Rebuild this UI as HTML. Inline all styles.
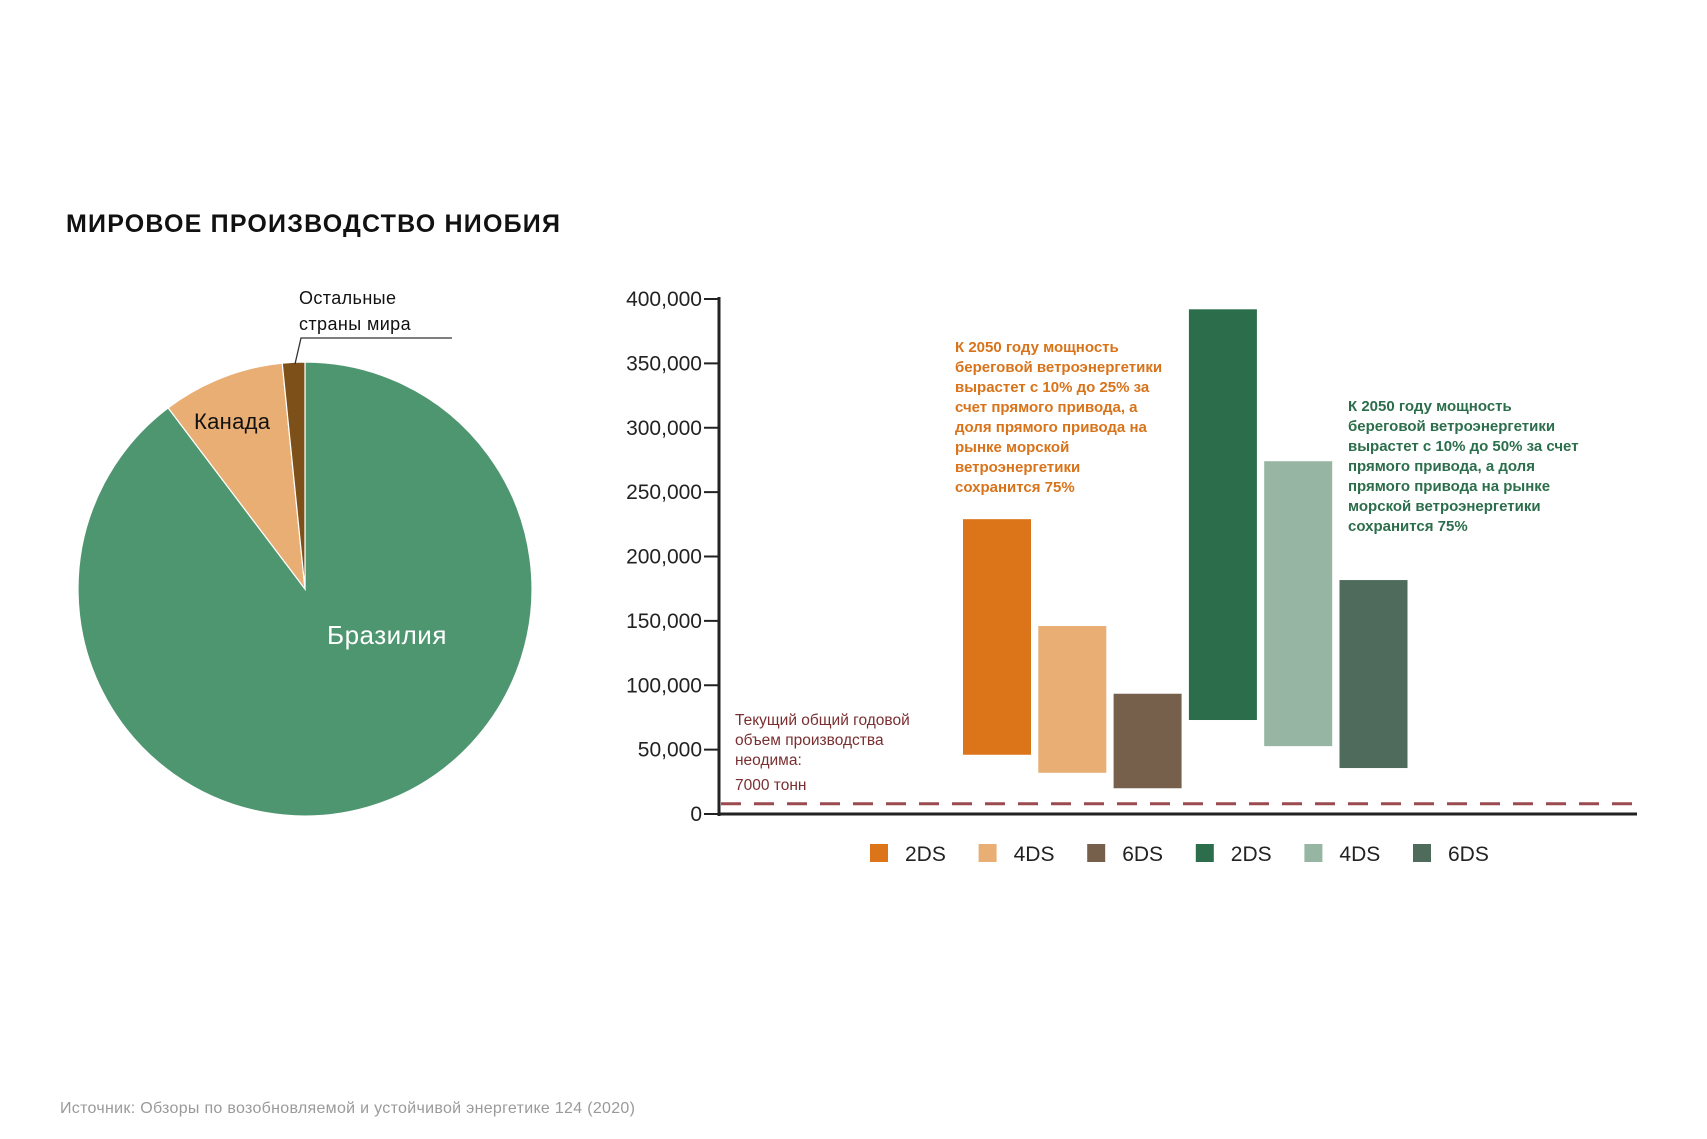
<!DOCTYPE html>
<html><head><meta charset="utf-8">
<style>
html,body{margin:0;padding:0;background:#fff;}
body{width:1707px;height:1139px;overflow:hidden;font-family:"Liberation Sans","DejaVu Sans",sans-serif;}
svg{position:absolute;left:0;top:0;}
</style></head>
<body>
<svg id="main" width="1707" height="1139" viewBox="0 0 1707 1139">
<text x="66" y="232" font-size="25" font-weight="bold" fill="#111" letter-spacing="1.2">МИРОВОЕ ПРОИЗВОДСТВО НИОБИЯ</text>
<g id="pie"></g>
<polyline points="295,364 301,338 452,338" fill="none" stroke="#333" stroke-width="1.3"/>
<text x="299" y="304" font-size="18" fill="#111" letter-spacing="0.4">Остальные</text>
<text x="299" y="330" font-size="18" fill="#111" letter-spacing="0.4">страны мира</text>
<text x="194" y="429" font-size="22" fill="#111" letter-spacing="0.3">Канада</text>
<text x="327" y="644" font-size="26" fill="#fff" letter-spacing="0.5">Бразилия</text>
<g id="bars"></g>
<g font-size="15" font-weight="bold" fill="#d9731a">
<text x="955" y="352">К 2050 году мощность</text>
<text x="955" y="372">береговой ветроэнергетики</text>
<text x="955" y="392">вырастет с 10% до 25% за</text>
<text x="955" y="412">счет прямого привода, а</text>
<text x="955" y="432">доля прямого привода на</text>
<text x="955" y="452">рынке морской</text>
<text x="955" y="472">ветроэнергетики</text>
<text x="955" y="492">сохранится 75%</text>
</g>
<g font-size="15" font-weight="bold" fill="#2c6e4b">
<text x="1348" y="411">К 2050 году мощность</text>
<text x="1348" y="431">береговой ветроэнергетики</text>
<text x="1348" y="451">вырастет с 10% до 50% за счет</text>
<text x="1348" y="471">прямого привода, а доля</text>
<text x="1348" y="491">прямого привода на рынке</text>
<text x="1348" y="511">морской ветроэнергетики</text>
<text x="1348" y="531">сохранится 75%</text>
</g>
<g font-size="15.5" fill="#7a2e30">
<text x="735" y="725">Текущий общий годовой</text>
<text x="735" y="745">объем производства</text>
<text x="735" y="765">неодима:</text>
<text x="735" y="790">7000 тонн</text>
</g>
<text x="60" y="1113" font-size="16" fill="#9a9a9a" letter-spacing="0.3">Источник: Обзоры по возобновляемой и устойчивой энергетике 124 (2020)</text>
</svg>
<script>
const pieLabels = ["Бразилия","Канада","Остальные страны мира"];
const pieValues = [89.7, 8.7, 1.6];
const pieColors = ["#4e9670","#e8ae74","#7d5019"];

const barCategories = ["2DS","4DS","6DS","2DS","4DS","6DS"];
const barLow = [46000, 32000, 20000, 73000, 52700, 35700];
const barHigh = [229000, 146000, 93400, 392000, 274000, 181700];
const barColors = ["#dc7519","#e8ae74","#77604b","#2c6e4b","#96b6a3","#4f6b5c"];
const yTicks = [0,50000,100000,150000,200000,250000,300000,350000,400000];
const yTickLabels = ["0","50,000","100,000","150,000","200,000","250,000","300,000","350,000","400,000"];
const currentLevel = [8000];

const NS = "http://www.w3.org/2000/svg";
function mk(tag, attrs, parent){const e=document.createElementNS(NS,tag);for(const k in attrs)e.setAttribute(k,attrs[k]);parent.appendChild(e);return e;}

// pie
const pie = document.getElementById('pie');
const cx=305, cy=589, r=227;
const total = pieValues.reduce((a,b)=>a+b,0);
let a0 = 0;
pieValues.forEach((v,i)=>{
  const a1 = a0 + v/total*2*Math.PI;
  const x0=cx+r*Math.sin(a0), y0=cy-r*Math.cos(a0);
  const x1=cx+r*Math.sin(a1), y1=cy-r*Math.cos(a1);
  const large = (a1-a0)>Math.PI?1:0;
  const p = mk('path',{d:`M${cx},${cy} L${x0},${y0} A${r},${r} 0 ${large} 1 ${x1},${y1} Z`,fill:pieColors[i],stroke:"#fff","stroke-width":1.2},pie);
  
  
  a0 = a1;
});

// bar chart
const g = document.getElementById('bars');
const axX=719, y0px=814, y400=299, xEnd=1637;
const yScale = v => y0px - v/400000*(y0px-y400);
const xStart=963, step=75.3, bw=68;
const xScale = i => xStart + i*step;

yTicks.forEach((t,i)=>{
  const y=yScale(t);
  const tk = mk('line',{x1:axX-15,x2:axX,y1:y,y2:y,stroke:"#222","stroke-width":2},g);
  
  
  const tx = mk('text',{x:axX-17,y:y+7,"text-anchor":"end","font-size":21,fill:"#222"},g);
  tx.textContent = yTickLabels[i];
  
  
});
const ya = mk('line',{x1:axX,x2:axX,y1:y400-2,y2:y0px+2,stroke:"#222","stroke-width":3},g);



barCategories.forEach((c,i)=>{
  const yt=yScale(barHigh[i]), yb=yScale(barLow[i]);
  const b = mk('rect',{x:xScale(i),y:yt,width:bw,height:yb-yt,fill:barColors[i]},g);
  
  
});

const dl = mk('line',{x1:axX+2,x2:xEnd-2,y1:yScale(currentLevel[0]),y2:yScale(currentLevel[0]),stroke:"#9b4a4f","stroke-width":3,"stroke-dasharray":"20 13"},g);



const xa = mk('line',{x1:axX,x2:xEnd,y1:y0px,y2:y0px,stroke:"#222","stroke-width":3},g);



// legend
const legX=870, legStep=108.6;
barCategories.forEach((c,i)=>{
  const lx = legX + i*legStep;
  const sq = mk('rect',{x:lx,y:844,width:18,height:18,fill:barColors[i]},g);
  
  
  const t = mk('text',{x:lx+35,y:861,"font-size":21,fill:"#222"},g);
  t.textContent = c;
  
  
});
</script>
</body></html>
